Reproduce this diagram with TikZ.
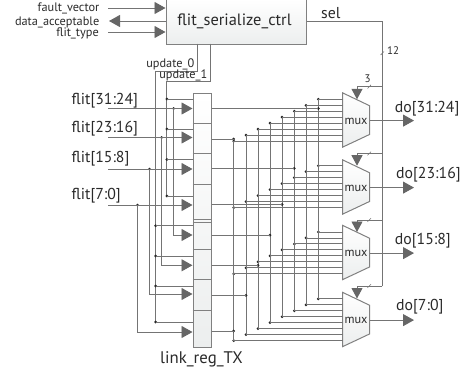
\documentclass[tikz,border=0pt]{standalone}
\usepackage{fontspec}
\setmainfont{PT Sans}
\usetikzlibrary{arrows.meta,calc}
\definecolor{wire}{HTML}{747474}
\definecolor{tipc}{HTML}{666666}
\definecolor{boxe}{HTML}{808080}
\definecolor{shade}{HTML}{ECEEEE}
\definecolor{txt}{HTML}{2A2A2A}
\tikzset{
  wire/.style={draw=wire,line width=0.95pt},
  garrow/.style={wire,-{Triangle[length=11pt,width=12pt,fill=tipc,color=tipc]}},
  dot/.style={circle,fill=black!85,inner sep=0pt,minimum size=3pt},
  blockbox/.style={draw=boxe,line width=1pt,top color=white,bottom color=shade,inner sep=0pt},
  biglabel/.style={text=txt,font=\fontsize{15.8}{16}\selectfont,inner sep=0pt},
  smalllabel/.style={text=txt,font=\fontsize{12.3}{13}\selectfont,inner sep=0pt},
  muxlabel/.style={text=txt,font=\fontsize{12.3}{13}\selectfont,inner sep=0pt},
  tick/.style={draw=wire,line width=0.6pt},
}
\begin{document}
\begin{tikzpicture}[x=1pt,y=-1pt]
\useasboundingbox (0,0) rectangle (468,375);
% control block
\node[blockbox,minimum width=140.5pt,minimum height=45pt,anchor=north west] (ctrl) at (165.5,-1) {};
\node[biglabel,font=\fontsize{16.4}{17}\selectfont] (ctrlt) at (234.5,21) {flit\_serialize\_ctrl};
% control inputs
\node[smalllabel,anchor=east] (fv) at (99.5,8) {fault\_vector};
\node[smalllabel,anchor=east] (da) at (99.5,22) {data\_acceptable};
\node[smalllabel,anchor=east] (ft) at (99,33) {flit\_type};
\coordinate (fvs) at (108,8); \coordinate (dae) at (109,21); \coordinate (fts) at (108,32);
\draw[garrow] (fvs) -- (fvs -| ctrl.west);
\draw[garrow] (dae -| ctrl.west) -- (dae);
\draw[garrow] (fts) -- (fts -| ctrl.west);
% register
\node[blockbox,minimum width=18pt,minimum height=254pt,anchor=north west] (reg) at (192.5,93) {};
\foreach \y in {123,153.5,184,219,222,249,279.7,310}
  \draw[draw=boxe,line width=0.9pt] (reg.west |- 0,\y) -- (reg.east |- 0,\y);
\node[biglabel,font=\fontsize{16.8}{17}\selectfont,anchor=north] (regt) at (201.5,351) {link\_reg\_TX};
% update_0
\coordinate (u0a) at (197.5,43.5); \coordinate (u0b) at (197.5,71); \coordinate (u0c) at (155.6,71); \coordinate (u0d) at (155.6,322);
\draw[wire] (u0a) -- (u0b) -- (u0c) -- (u0d);
\node[smalllabel,anchor=east] (u0t) at (194.5,64) {update\_0};
\foreach \n/\y in {1/225.7,2/256,3/286,4/322} {
  \node[dot] (a\n) at (155.6,\y) {};
  \draw[wire] (a\n.center) -- (a\n.center -| reg.west);
}
% update_1
\coordinate (u1a) at (210,43.5); \coordinate (u1b) at (210,81); \coordinate (u1c) at (166.8,81); \coordinate (u1d) at (166.8,196);
\draw[wire] (u1a) -- (u1b) -- (u1c) -- (u1d);
\node[smalllabel,anchor=east] (u1t) at (207.5,75) {update\_1};
\foreach \n/\y in {1/99,2/129,3/159.5,4/196} {
  \node[dot] (b\n) at (166.8,\y) {};
  \draw[wire] (b\n.center) -- (b\n.center -| reg.west);
}
% data inputs
\foreach \n/\txt/\ty/\yy/\xx/\yb in {
  a/flit[31:24]/100.5/108.5/173.7/235,
  b/flit[23:16]/129/137.5/161.7/265.3,
  c/flit[15:8]/158.5/169/149.5/294,
  d/flit[7:0]/196/205/137.5/332} {
  \node[biglabel,anchor=west] (in\n) at (71.5,\ty) {\txt};
  \coordinate (s\n) at (108,\yy);
  \node[dot] (t\n) at (\xx,\yy) {};
  \coordinate (e\n) at (\xx,\yb);
  \draw[garrow] (s\n) -- (s\n -| reg.west);
  \draw[garrow] (t\n.center) -- (e\n) -- (e\n -| reg.west);
}
% multiplexers
\foreach \k/\c/\yz in {1/120/99.3,2/187/165.7,3/252.5/232,4/319.5/298.8} {
  \path[draw=boxe,line width=1pt,top color=white,bottom color=shade]
     (342.5,\c-27.2) -- (369.7,\c-14.2) -- (369.7,\c+14.4) -- (342.5,\c+27.2) -- cycle;
  \node[muxlabel] (mux\k) at (356,\c+1) {mux};
  \coordinate (q\k) at (369.7,\c+0.6);
  \coordinate (tip\k) at (414,\c+0.6);
  \draw[garrow] (q\k) -- (tip\k);
  \foreach \i/\x in {0/318.3,1/306,2/294.3,3/282,4/270,5/258,6/246,7/233.7} {
    \node[dot] (d\k-\i) at (\x,\yz+\i*5.98) {};
    \coordinate (m\k-\i) at (342.5,\yz+\i*5.98);
    \draw[wire] (d\k-\i.center) -- (m\k-\i);
  }
}
\foreach \i in {0,...,7}
  \draw[wire] (d1-\i.center) -- (d4-\i.center);
% register outputs
\foreach \n/\y/\x in {1/108.5/318.3,2/139/233.7,3/168.4/294.3,4/204.5/282,5/235/270,6/265.3/258,7/295.3/246,8/331/233.7} {
  \node[dot] (o\n) at (\x,\y) {};
  \draw[wire] (o\n.center -| reg.east) -- (o\n.center);
}
% output labels
\node[biglabel,anchor=west] (do1) at (394.7,108.5) {do[31:24]};
\node[biglabel,anchor=west] (do2) at (396,174.5) {do[23:16]};
\node[biglabel,anchor=west] (do3) at (394.7,240.5) {do[15:8]};
\node[biglabel,anchor=west] (do4) at (396,306.5) {do[7:0]};
% select
\coordinate (sa) at (382.3,21.3); \coordinate (sb) at (382.3,286);
\draw[wire] (sa -| ctrl.east) -- (sa) -- (sb);
\node[biglabel,anchor=west] (selt) at (321,13) {sel};
\draw[tick] (380.6,55) -- (384,51.5);
\node[smalllabel,font=\fontsize{11}{12}\selectfont] (n12) at (393,51) {12};
\node[smalllabel,font=\fontsize{11}{12}\selectfont] (n3) at (367.5,79) {3};
\foreach \k/\y/\t in {1/86.7/99.3,2/153.5/165.7,3/220/232,4/286/298.5} {
  \coordinate (br\k) at (382.3,\y);
  \coordinate (bc\k) at (357,\y);
  \coordinate (bt\k) at (357,\t);
  \draw[wire,-{Triangle[length=10.5pt,width=11pt,fill=tipc,color=tipc]}] (br\k) -- (bc\k) -- (bt\k);
  \draw[tick] (367.5,\y+1.8) -- (371,\y-1.8);
}
\end{tikzpicture}
\end{document}
